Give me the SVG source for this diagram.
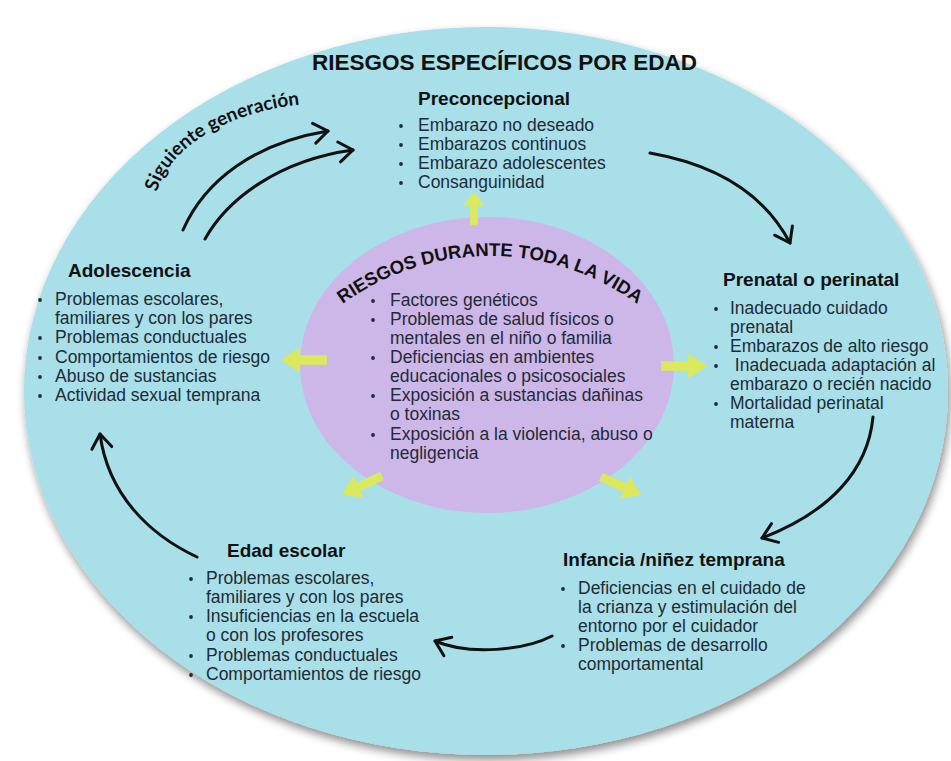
<svg xmlns="http://www.w3.org/2000/svg" xmlns:xlink="http://www.w3.org/1999/xlink" width="951" height="761" viewBox="0 0 951 761">
<defs>
<style>
.body{font-family:"Liberation Sans",Arial,sans-serif;font-size:17.5px;fill:#1f2b36;}
.head{font-family:"Liberation Sans",Arial,sans-serif;font-size:19px;font-weight:bold;fill:#111;}
.title{font-family:"Liberation Sans",Arial,sans-serif;font-size:22.5px;font-weight:bold;fill:#111;}
.arc{font-family:"Liberation Sans",Arial,sans-serif;font-size:18.5px;font-weight:bold;fill:#111;}
.sig{font-family:Lato,"Open Sans",sans-serif;font-size:19px;font-weight:bold;fill:#111;}
.blt{fill:#1f2b36;}
.conn{fill:none;stroke:#111;stroke-width:3;stroke-linecap:round;marker-end:url(#chev);}
.ya{fill:#dde95c;}
</style>
<filter id="sh" x="-10%" y="-10%" width="120%" height="125%">
<feGaussianBlur in="SourceAlpha" stdDeviation="5"/>
<feOffset dx="2" dy="5" result="o"/>
<feComponentTransfer><feFuncA type="linear" slope="0.45"/></feComponentTransfer>
<feMerge><feMergeNode/><feMergeNode in="SourceGraphic"/></feMerge>
</filter>
<marker id="chev" markerUnits="userSpaceOnUse" markerWidth="30" markerHeight="30" viewBox="-20 -15 30 30" refX="0" refY="0" orient="auto" overflow="visible">
<path d="M-14,-10 L0,0 L-14,10" fill="none" stroke="#111" stroke-width="3" stroke-linecap="round" stroke-linejoin="round"/>
</marker>
<path id="ya" d="M0,-4.5 L26,-4.5 L26,-12 L44,0 L26,12 L26,4.5 L0,4.5 Z"/>
<path id="sigPath" d="M 157 192 C 168 150, 225 108, 320 103"/>
<path id="arcPath" d="M 340 306 A 250 250 0 0 1 640 306"/>
</defs>
<rect width="951" height="761" fill="#ffffff"/>

<g id="node-outer">
<ellipse cx="486" cy="391" rx="462" ry="364" fill="#a8dfe9" filter="url(#sh)"/>
</g>

<g id="node-center">
<ellipse cx="487" cy="365" rx="187" ry="148" fill="#cdb7e8"/>
</g>

<g id="yellow-arrows" class="ya">
<use href="#ya" transform="translate(474,225) rotate(-90) scale(0.75,0.85)"/>
<use href="#ya" transform="translate(661,366) scale(1.05)"/>
<use href="#ya" transform="translate(327,360) rotate(180) scale(1.05)"/>
<use href="#ya" transform="translate(382,476) rotate(155)"/>
<use href="#ya" transform="translate(601,477) rotate(24)"/>
</g>

<g id="node-title">
<text class="title" x="312" y="70">RIESGOS ESPECÍFICOS POR EDAD</text>
</g>

<g id="node-siguiente">
<text class="sig"><textPath href="#sigPath">Siguiente generación</textPath></text>
</g>

<g id="node-preconcepcional">
<text class="head" x="418" y="105">Preconcepcional</text>
<circle class="blt" cx="401" cy="126" r="1.9"/>
<circle class="blt" cx="401" cy="145" r="1.9"/>
<circle class="blt" cx="401" cy="164" r="1.9"/>
<circle class="blt" cx="401" cy="183" r="1.9"/>
<text class="body"><tspan x="418" y="131">Embarazo no deseado</tspan><tspan x="418" y="150">Embarazos continuos</tspan><tspan x="418" y="169">Embarazo adolescentes</tspan><tspan x="418" y="188">Consanguinidad</tspan></text>
</g>

<g id="node-prenatal">
<text class="head" x="723" y="286">Prenatal o perinatal</text>
<circle class="blt" cx="716" cy="309" r="1.9"/>
<circle class="blt" cx="716" cy="347" r="1.9"/>
<circle class="blt" cx="716" cy="366" r="1.9"/>
<circle class="blt" cx="716" cy="404" r="1.9"/>
<text class="body"><tspan x="730" y="314">Inadecuado cuidado</tspan><tspan x="730" y="333">prenatal</tspan><tspan x="730" y="352">Embarazos de alto riesgo</tspan><tspan x="730" y="371" xml:space="preserve"> Inadecuada adaptación al</tspan><tspan x="730" y="390">embarazo o recién nacido</tspan><tspan x="730" y="409">Mortalidad perinatal</tspan><tspan x="730" y="428">materna</tspan></text>
</g>

<g id="node-infancia">
<text class="head" x="563" y="566">Infancia /niñez temprana</text>
<circle class="blt" cx="563" cy="589" r="1.9"/>
<circle class="blt" cx="563" cy="646" r="1.9"/>
<text class="body"><tspan x="578" y="594">Deficiencias en el cuidado de</tspan><tspan x="578" y="613">la crianza y estimulación del</tspan><tspan x="578" y="632">entorno por el cuidador</tspan><tspan x="578" y="651">Problemas de desarrollo</tspan><tspan x="578" y="670">comportamental</tspan></text>
</g>

<g id="node-edad-escolar">
<text class="head" x="227" y="557">Edad escolar</text>
<circle class="blt" cx="191" cy="579" r="1.9"/>
<circle class="blt" cx="191" cy="617" r="1.9"/>
<circle class="blt" cx="191" cy="656" r="1.9"/>
<circle class="blt" cx="191" cy="675" r="1.9"/>
<text class="body"><tspan x="206" y="584">Problemas escolares,</tspan><tspan x="206" y="603">familiares y con los pares</tspan><tspan x="206" y="622">Insuficiencias en la escuela</tspan><tspan x="206" y="641">o con los profesores</tspan><tspan x="206" y="661">Problemas conductuales</tspan><tspan x="206" y="680">Comportamientos de riesgo</tspan></text>
</g>

<g id="node-adolescencia">
<text class="head" x="68" y="277">Adolescencia</text>
<circle class="blt" cx="40" cy="300" r="1.9"/>
<circle class="blt" cx="40" cy="338" r="1.9"/>
<circle class="blt" cx="40" cy="358" r="1.9"/>
<circle class="blt" cx="40" cy="377" r="1.9"/>
<circle class="blt" cx="40" cy="396" r="1.9"/>
<text class="body"><tspan x="55" y="305">Problemas escolares,</tspan><tspan x="55" y="324">familiares y con los pares</tspan><tspan x="55" y="343">Problemas conductuales</tspan><tspan x="55" y="363">Comportamientos de riesgo</tspan><tspan x="55" y="382">Abuso de sustancias</tspan><tspan x="55" y="401">Actividad sexual temprana</tspan></text>
</g>

<g id="node-toda-la-vida">
<text class="arc"><textPath href="#arcPath" startOffset="50%" text-anchor="middle">RIESGOS DURANTE TODA LA VIDA</textPath></text>
<circle class="blt" cx="373" cy="301" r="1.9"/>
<circle class="blt" cx="373" cy="320" r="1.9"/>
<circle class="blt" cx="373" cy="358" r="1.9"/>
<circle class="blt" cx="373" cy="396" r="1.9"/>
<circle class="blt" cx="373" cy="435" r="1.9"/>
<text class="body"><tspan x="390" y="306">Factores genéticos</tspan><tspan x="390" y="325">Problemas de salud físicos o</tspan><tspan x="390" y="344">mentales en el niño o familia</tspan><tspan x="390" y="363">Deficiencias en ambientes</tspan><tspan x="390" y="382">educacionales o psicosociales</tspan><tspan x="390" y="401">Exposición a sustancias dañinas</tspan><tspan x="390" y="420">o toxinas</tspan><tspan x="390" y="440">Exposición a la violencia, abuso o</tspan><tspan x="390" y="459">negligencia</tspan></text>
</g>

<g id="connectors">
<path class="conn" d="M 183 230 C 205 180, 255 143, 328 131"/>
<path class="conn" d="M 205 239 C 228 198, 280 160, 353 150"/>
<path class="conn" d="M 650 153 C 718 165, 765 195, 790 243"/>
<path class="conn" d="M 873 417 C 868 470, 830 512, 762 538"/>
<path class="conn" d="M 552 636 C 525 650, 470 656, 435 641"/>
<path class="conn" d="M 197 557 C 150 535, 108 495, 100 434"/>
</g>
</svg>
